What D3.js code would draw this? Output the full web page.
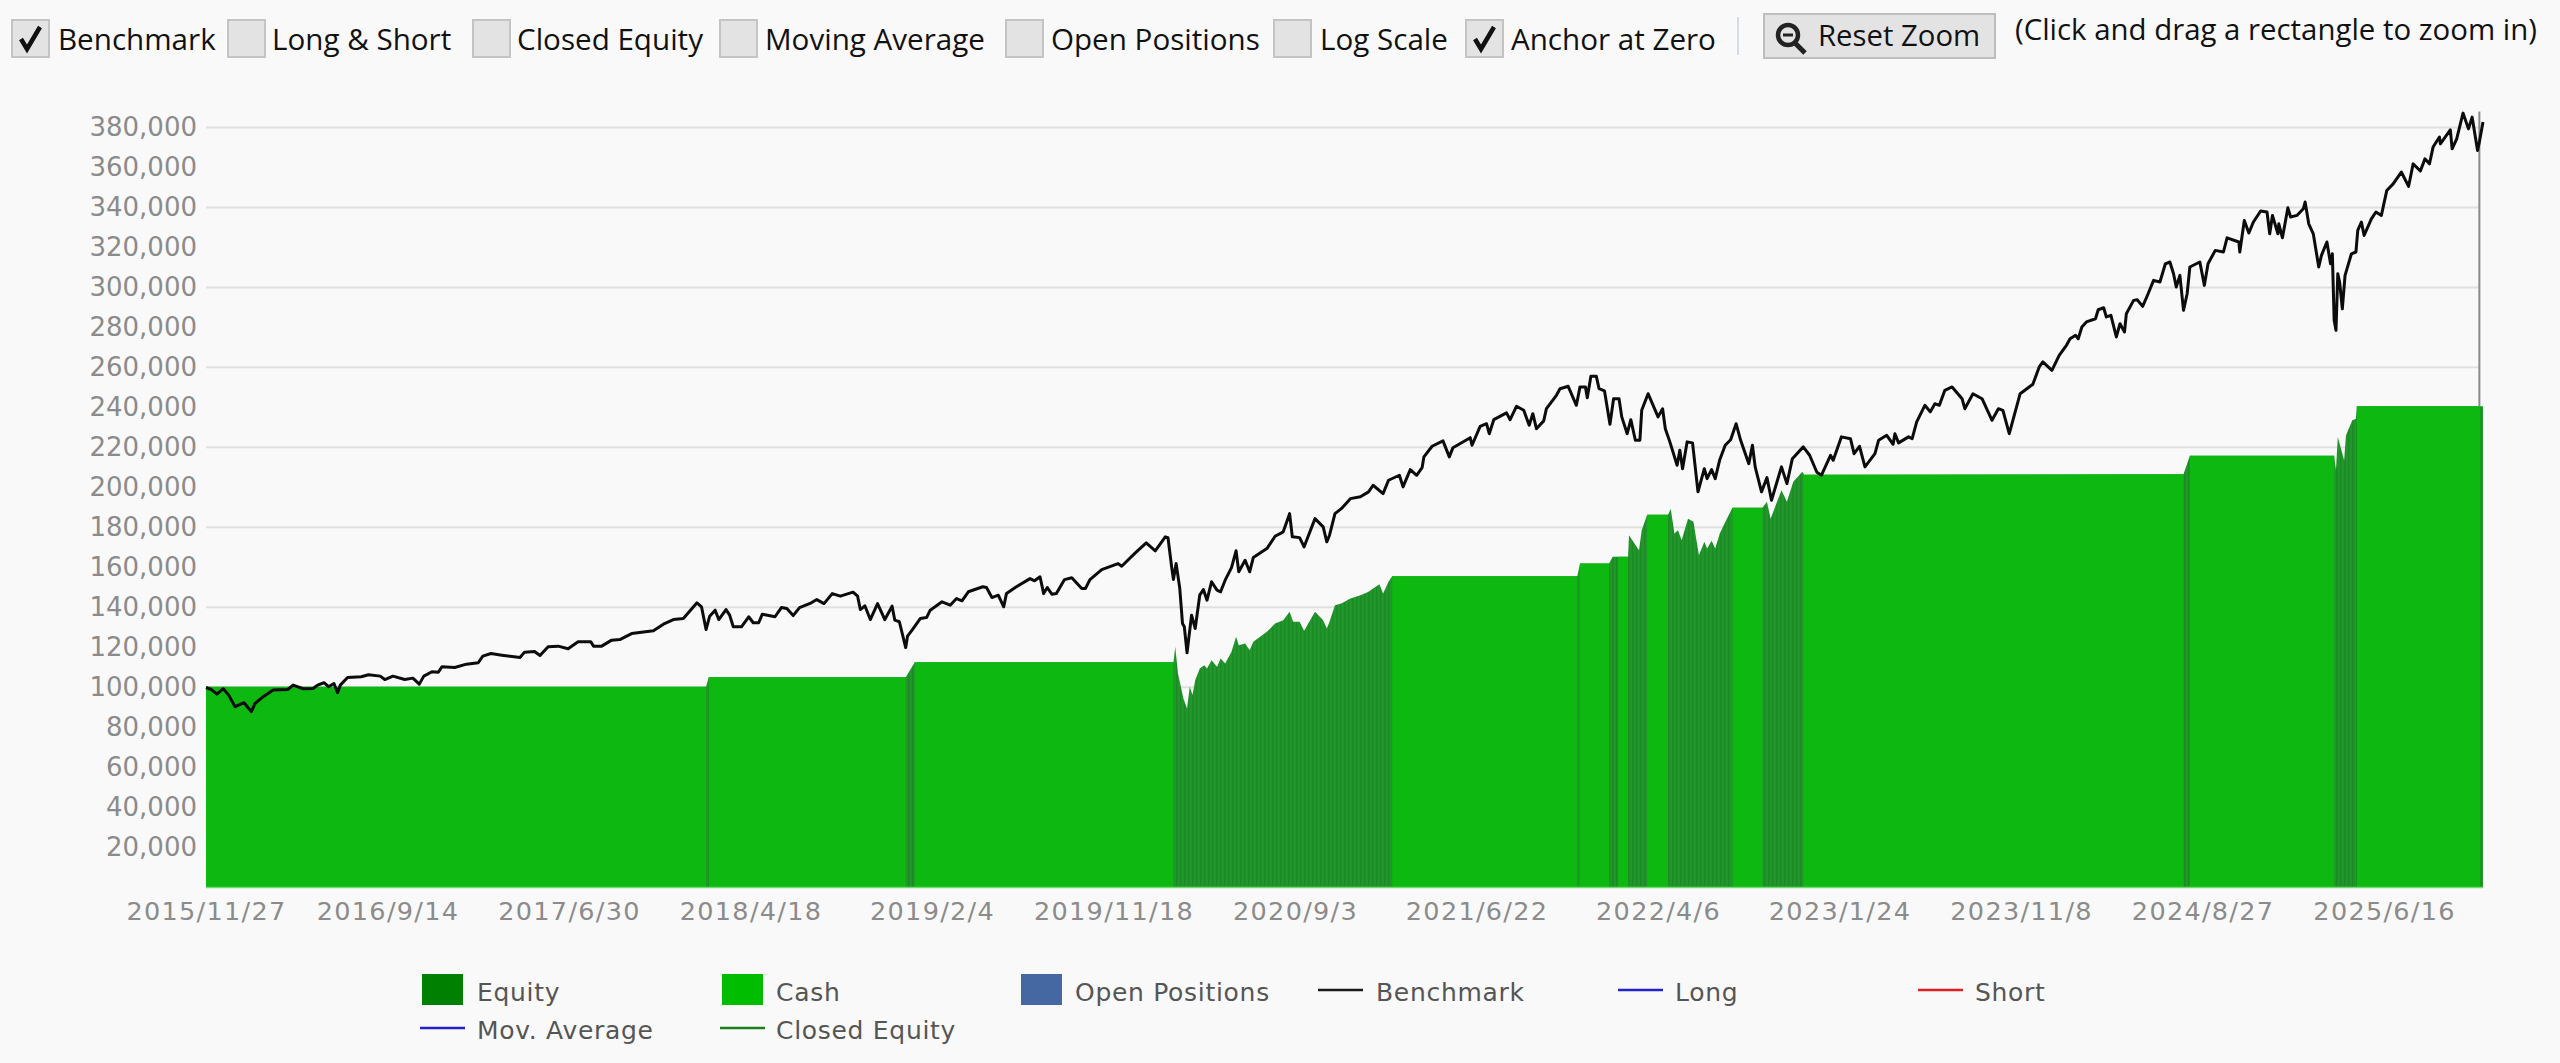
<!DOCTYPE html>
<html>
<head>
<meta charset="utf-8">
<script src="https://cdn.jsdelivr.net/npm/d3@7"></script>
<style>
  html, body { margin: 0; padding: 0; background: #f9f9f9; overflow: hidden; }
  text { font-family: "DejaVu Sans", sans-serif; }
  .bar-text { font-family: "Open Sans", sans-serif; font-size: 29.6px; fill: #111; }
</style>
</head>
<body>
<div id="chart"></div>
<script>
// x is the trading session number, one tick label every 200 sessions. values in thousands
const tickSessions = [0, 200, 400, 600, 800, 1000, 1200, 1400, 1600, 1800, 2000, 2200, 2400];
const tickLabels = ["2015/11/27", "2016/9/14", "2017/6/30", "2018/4/18", "2019/2/4", "2019/11/18", "2020/9/3",
  "2021/6/22", "2022/4/6", "2023/1/24", "2023/11/8", "2024/8/27", "2025/6/16"];
const yTicks = [20, 40, 60, 80, 100, 120, 140, 160, 180, 200, 220, 240, 260, 280, 300, 320, 340, 360, 380];
const gridValues = [20, 60, 100, 140, 180, 220, 260, 300, 340, 380];

const benchSession = [0, 6, 12, 19, 25, 32, 42, 50, 54, 63, 74, 90, 96, 107, 118, 123, 130, 135, 141, 145, 148, 156, 171, 179,
  192, 197, 206, 219, 228, 235, 240, 249, 256, 260, 274, 287, 300, 305, 314, 326, 346, 351, 362, 368, 377, 388, 399, 410, 424, 427, 436, 447,
  456, 469, 493, 504, 515, 526, 541, 546, 551, 555, 561, 565, 573, 577, 581, 590, 598, 603, 609, 613, 627, 634, 640, 647, 654, 667, 673, 681,
  690, 699, 713, 718, 721, 726, 732, 740, 748, 756, 759, 764, 771, 773, 778, 787, 794, 798, 811, 820, 827, 833, 840, 856, 860, 866, 873, 879,
  882, 893, 908, 913, 919, 923, 927, 932, 937, 946, 954, 965, 969, 974, 987, 1005, 1009, 1024, 1036, 1046, 1057, 1060, 1064, 1066, 1069, 1073,
  1076, 1078, 1081, 1086, 1090, 1095, 1099, 1103, 1108, 1114, 1118, 1123, 1130, 1135, 1138, 1145, 1150, 1154, 1169, 1178, 1187, 1194, 1197,
  1205, 1210, 1222, 1231, 1235, 1238, 1244, 1251, 1261, 1272, 1281, 1286, 1297, 1303, 1315, 1319, 1327, 1334, 1340, 1342, 1351, 1363, 1370,
  1374, 1393, 1395, 1404, 1411, 1414, 1419, 1433, 1437, 1444, 1452, 1458, 1462, 1466, 1474, 1477, 1488, 1492, 1501, 1510, 1514, 1520, 1522,
  1526, 1532, 1535, 1541, 1547, 1551, 1557, 1560, 1566, 1570, 1575, 1580, 1582, 1589, 1600, 1605, 1608, 1613, 1621, 1624, 1627, 1632, 1638,
  1644, 1651, 1654, 1659, 1663, 1668, 1674, 1680, 1686, 1691, 1700, 1704, 1707, 1714, 1720, 1725, 1736, 1742, 1748, 1760, 1767, 1775, 1780,
  1790, 1793, 1802, 1812, 1816, 1822, 1828, 1839, 1843, 1852, 1859, 1861, 1865, 1876, 1880, 1885, 1894, 1900, 1905, 1910, 1916, 1924, 1935,
  1938, 1947, 1957, 1968, 1975, 1980, 1987, 1999, 2013, 2020, 2024, 2034, 2042, 2050, 2054, 2060, 2063, 2067, 2072, 2082, 2085, 2091, 2094,
  2099, 2105, 2109, 2114, 2116, 2124, 2128, 2134, 2140, 2146, 2153, 2159, 2164, 2168, 2171, 2175, 2179, 2183, 2186, 2197, 2202, 2206, 2214,
  2223, 2227, 2240, 2241, 2246, 2251, 2256, 2264, 2271, 2274, 2277, 2283, 2284, 2288, 2294, 2297, 2304, 2311, 2313, 2317, 2322, 2328, 2331,
  2337, 2341, 2343, 2345, 2347, 2349, 2351, 2354, 2357, 2364, 2369, 2371, 2375, 2378, 2386, 2391, 2397, 2403, 2410, 2419, 2427, 2432, 2440,
  2445, 2450, 2454, 2461, 2462, 2473, 2475, 2480, 2487, 2493, 2497, 2503, 2505, 2509];
const benchValue = [99.8, 98.8, 96.5, 99.2, 96, 90.2, 92.2, 87.7, 91.8, 95.2, 98.5, 98.8, 101, 99.2, 99.3, 101, 102.2, 100.2, 101.8, 97.2, 101, 104.8, 105.2, 106.2,
  105.5, 103.8, 105.5, 103.8, 104.5, 101.5, 105.5, 107.7, 107.5, 110.2, 109.8, 111.5, 112.2, 115.5, 116.8, 116, 114.8, 117.5, 117.8, 115.8, 120.2, 120.5, 119.2, 122.7, 122.7, 120.5, 120.5, 123.5,
  123.8, 126.8, 128.2, 131.5, 133.8, 134.3, 142.2, 140.2, 128.8, 135.5, 138.5, 133.8, 138.8, 136, 130.2, 130.2, 135.2, 132.2, 132.2, 136.5, 135.2, 139.8, 139.3, 135.8, 139.8, 142.2, 143.8, 141.8,
  146.8, 145.5, 147.5, 145.5, 138.8, 140.7, 133.8, 141.8, 133.8, 140.5, 133.5, 132.7, 119.8, 125.5, 128.5, 134.3, 134.8, 138.5, 142.7, 141, 144.3, 143.2, 147.7, 150.2, 149.8, 144.8, 146, 140.2,
  146.8, 150.2, 154.3, 153.2, 155.2, 146.8, 149.8, 146.5, 146.8, 153.8, 154.7, 149.3, 149.3, 153.8, 158.8, 161.8, 160.5, 167.2, 172.2, 168.2, 175.2, 174.8, 160.2, 153.8, 161.8, 149.3,
  131.8, 130.2, 117.2, 136, 129.3, 146, 148.8, 143.5, 152.7, 148.5, 147.7, 153.5, 159.8, 168.2, 157.7, 163.5, 157.7, 164.8, 169.3, 175.5, 177.7, 186.8, 175.2,
  174.8, 170.2, 184.3, 180.2, 172.7, 176, 186.8, 189.3, 194.3, 195.2, 197.7, 201, 196.8, 203.5, 206, 200.2, 208.8, 206, 209.8, 215.2, 220.5, 223.2, 215.2,
  219.8, 224.8, 221, 230.5, 231.8, 226.8, 233.8, 237.2, 233.8, 240.5, 238.5, 231, 236.8, 229.3, 233.2, 239.3, 246, 249.3, 250.5, 241, 250.2, 250.2, 244.8,
  255.5, 255.5, 249.3, 248.2, 231.5, 244.3, 244.3, 235.2, 226.8, 233.8, 223.5, 223.5, 238.5, 246.8, 235.2, 239.3, 229.3, 222.7, 211, 218.5, 209.3, 222.7, 222.2,
  197.7, 209.3, 204.3, 208.8, 204.3, 213.8, 221, 223.8, 231.8, 223.5, 211.8, 221, 210.2, 197.7, 204.8, 193.5, 210.2, 201.8, 214.3, 220.2, 216, 207.5, 206,
  216, 213.5, 225.2, 224.3, 216.8, 220.5, 210.2, 216.8, 223.5, 226, 221.5, 226.8, 222.2, 225.2, 224.3, 232.7, 241, 237.7, 241.8, 241, 248.5, 250.2, 244.3,
  239.3, 246.8, 244.3, 233.5, 239.3, 238.5, 226.8, 246.8, 251.5, 260.2, 262.7, 258.5, 266, 271, 274.3, 276, 274.3, 280.2, 282.7, 284.3, 288.8, 289.8, 285.2,
  286, 275.2, 281.8, 277.7, 286.8, 293.5, 293.8, 290.5, 296.8, 303.5, 302.7, 311.8, 312.7, 306.8, 300.2, 306, 288.5, 296.8, 310.2, 312.7, 301, 311.8, 318.5,
  317.7, 324.8, 322.7, 317.7, 333.5, 327.2, 332.7, 338.2, 337.7, 326.8, 336, 326.8, 331.8, 324.8, 339.8, 335.2, 336, 339.3, 342.7, 331.8, 326.8, 310.2, 316,
  322.7, 311.8, 316.8, 283.5, 278.5, 306.8, 302.7, 289.3, 306, 316.8, 317.7, 328.5, 332.7, 326, 334.3, 337.7, 336, 348.5, 351.8, 357.7, 350.5, 361.8, 358.2,
  364.3, 361.8, 370.2, 375.2, 371.8, 378.8, 369.3, 374.3, 387.2, 379.3, 385.2, 368.5, 372.7, 382.7];

const equitySession = [0, 551, 554, 771, 775, 781, 1066, 1068, 1071, 1077, 1081, 1084, 1087, 1090, 1095, 1100, 1103, 1108, 1114, 1118, 1123, 1130, 1135, 1138,
  1145, 1150, 1154, 1169, 1178, 1187, 1194, 1198, 1205, 1210, 1222, 1231, 1235, 1238, 1244, 1251, 1261, 1272, 1281, 1286, 1293, 1297, 1303, 1307,
  1511, 1514, 1546, 1550, 1567, 1568, 1579, 1582, 1588, 1611, 1614, 1618, 1622, 1626, 1633, 1639, 1645, 1651, 1654, 1659, 1663, 1668, 1675, 1682,
  1715, 1720, 1724, 1736, 1742, 1749, 1759, 1761, 2179, 2186, 2345, 2347, 2349, 2356, 2358, 2365, 2369, 2370, 2509];
const equityValue = [100.2, 100.2, 105, 105, 108, 112.5, 112.5, 120.2, 106.8, 94.3, 89.3, 100.2, 96, 103.5, 109.3, 111, 109.3, 113.5, 110.2, 114.3, 111.8, 117.7, 125.2, 121,
  121.8, 118.5, 122.7, 127.7, 131.8, 133.5, 137.7, 132.7, 132.7, 128.2, 137.7, 133.5, 129.3, 132.7, 141, 141.8, 144.3, 146, 147.7, 149.3, 151.5, 146.8, 152.7, 155.5,
  155.5, 161.8, 161.8, 165.2, 165.2, 176, 168.5, 178.5, 186.3, 186.3, 189.3, 176.8, 178.5, 173.5, 184.3, 182.7, 166, 172.7, 169.3, 173.2, 169.3, 176.8, 183.5, 189.8,
  189.8, 192.7, 184.3, 198.5, 192.7, 202.7, 207.7, 206.3, 206.5, 215.7, 215.7, 208.5, 225.2, 213.5, 226, 233.5, 234.3, 240.5, 240.5];

// cash falls to zero while a position is open, the dark equity shows through there
const cashSession = [0, 551, 551, 554, 554, 771, 771, 781, 781, 1066, 1066, 1307, 1307, 1511, 1511, 1514, 1514, 1546, 1546, 1556, 1556, 1567, 1567, 1588, 1588, 1611, 1611,
  1682, 1682, 1715, 1715, 1760, 1760, 2179, 2179, 2186, 2186, 2345, 2345, 2370, 2370, 2506, 2506];
const cashValue = [100.2, 100.2, 0, 0, 105, 105, 0, 0, 112.5, 112.5, 0, 0, 155.5, 155.5, 0, 0, 161.8, 161.8, 0, 0, 165.2, 165.2, 0, 0, 186.3, 186.3, 0,
  0, 189.8, 189.8, 0, 0, 206.3, 206.5, 0, 0, 215.7, 215.7, 0, 0, 240.5, 240.5, 0];

const lastBarSession = 2505;
const lastBarValues = [240.5, 388];

const toggles = ["Benchmark", "Long & Short", "Closed Equity", "Moving Average", "Open Positions", "Log Scale", "Anchor at Zero"];
const toggleChecked = [true, false, false, false, false, false, true];
const toggleBoxX = [12, 228, 473, 720, 1006, 1274, 1466];
const toggleTextX = [58, 272, 517, 765, 1051, 1320, 1511];

const margin = {top: 87.5, left: 206, right: 2483, bottom: 887};

const svg = d3.select("#chart").append("svg")
    .attr("width", 2560)
    .attr("height", 1063)
    .style("display", "block");

const x = d3.scaleLinear().domain([0, 2509]).range([margin.left, margin.right]);
const y = d3.scaleLinear().domain([0, 400]).range([margin.bottom, margin.top]);

const defs = svg.append("defs");
const stripes = defs.append("pattern")
    .attr("id", "stripes")
    .attr("patternUnits", "userSpaceOnUse")
    .attr("width", 4)
    .attr("height", 4);
stripes.append("rect").attr("width", 4).attr("height", 4).attr("fill", "#21962a");
stripes.append("rect").attr("width", 1.4).attr("height", 4).attr("fill", "#1c8a24");

// gridlines
svg.append("g").selectAll("line")
  .data(gridValues)
  .join("line")
    .attr("x1", margin.left)
    .attr("x2", x(2505))
    .attr("y1", d => y(d))
    .attr("y2", d => y(d))
    .attr("stroke", "#e0e0e0")
    .attr("stroke-width", 2);

// equity and cash areas
const equityArea = d3.area()
    .x((d, i) => x(equitySession[i]))
    .y0(y(0))
    .y1(d => y(d));
svg.append("path")
    .attr("d", equityArea(equityValue))
    .attr("fill", "url(#stripes)");

const cashArea = d3.area()
    .x((d, i) => x(cashSession[i]))
    .y0(y(0))
    .y1(d => y(d));
svg.append("path")
    .attr("d", cashArea(cashValue))
    .attr("fill", "#0db810");

svg.append("line")
    .attr("x1", margin.left)
    .attr("x2", x(2509))
    .attr("y1", y(0) + 0.5)
    .attr("y2", y(0) + 0.5)
    .attr("stroke", "#6fdc72")
    .attr("stroke-width", 1.5);

// gray bar at the last session
svg.append("line")
    .attr("x1", x(lastBarSession))
    .attr("x2", x(lastBarSession))
    .attr("y1", y(lastBarValues[0]))
    .attr("y2", y(lastBarValues[1]))
    .attr("stroke", "#8a8a8a")
    .attr("stroke-width", 2);

// benchmark
const benchLine = d3.line()
    .x((d, i) => x(benchSession[i]))
    .y(d => y(d));
svg.append("path")
    .attr("d", benchLine(benchValue))
    .attr("fill", "none")
    .attr("stroke", "#0c0c0c")
    .attr("stroke-width", 3)
    .attr("stroke-linejoin", "round");

// axes
const yAxis = svg.append("g")
    .attr("transform", `translate(${margin.left},0)`)
    .call(d3.axisLeft(y).tickValues(yTicks).tickSize(0).tickPadding(9).tickFormat(d => d3.format(",")(d * 1000)));
yAxis.select(".domain").remove();
yAxis.selectAll("text").attr("fill", "#8b8b8b").attr("font-size", 26).attr("font-family", "DejaVu Sans");

const xAxis = svg.append("g")
    .attr("transform", `translate(0,${margin.bottom})`)
    .call(d3.axisBottom(x).tickValues(tickSessions).tickSize(0).tickPadding(15).tickFormat((d, i) => tickLabels[i]));
xAxis.select(".domain").remove();
xAxis.selectAll("text").attr("fill", "#8b8b8b").attr("font-size", 25.5).attr("font-family", "DejaVu Sans")
    .attr("letter-spacing", "1.3px");

// legend
const legendSwatches = [
  {label: "Equity", color: "#008000", x: 422, tx: 477},
  {label: "Cash", color: "#00bd00", x: 722, tx: 776},
  {label: "Open Positions", color: "#4668a2", x: 1021, tx: 1075}
];
const legendLines = [
  {label: "Benchmark", color: "#1a1a1a", x: 1318, tx: 1376, yy: 990},
  {label: "Long", color: "#2222cc", x: 1618, tx: 1675, yy: 990},
  {label: "Short", color: "#e02020", x: 1918, tx: 1975, yy: 990},
  {label: "Mov. Average", color: "#2222cc", x: 420, tx: 477, yy: 1028},
  {label: "Closed Equity", color: "#1e7d1e", x: 720, tx: 776, yy: 1028}
];
const legend = svg.append("g");
legend.selectAll("rect")
  .data(legendSwatches)
  .join("rect")
    .attr("x", d => d.x)
    .attr("y", 974)
    .attr("width", 41)
    .attr("height", 31)
    .attr("fill", d => d.color);
legend.selectAll("line")
  .data(legendLines)
  .join("line")
    .attr("x1", d => d.x)
    .attr("x2", d => d.x + 45)
    .attr("y1", d => d.yy)
    .attr("y2", d => d.yy)
    .attr("stroke", d => d.color)
    .attr("stroke-width", 2.5);
legend.selectAll("text")
  .data([
    ...legendSwatches.map(d => ({...d, yy: 990})),
    ...legendLines
  ])
  .join("text")
    .attr("x", d => d.tx)
    .attr("y", d => d.yy + 2)
    .attr("dy", "0.35em")
    .attr("font-size", 25)
    .attr("letter-spacing", "0.7px")
    .attr("fill", "#555")
    .text(d => d.label);

// toolbar
const bar = svg.append("g");
const boxes = bar.selectAll(".box")
  .data(toggles)
  .join("g")
    .attr("class", "box")
    .attr("transform", (d, i) => `translate(${toggleBoxX[i]},20)`);
boxes.append("rect")
    .attr("width", 37)
    .attr("height", 37)
    .attr("fill", "#e3e3e3")
    .attr("stroke", "#c4c4c4")
    .attr("stroke-width", 2);
boxes.filter((d, i) => toggleChecked[i]).append("path")
    .attr("d", "M9 19 L15 29 L28 7")
    .attr("fill", "none")
    .attr("stroke", "#111")
    .attr("stroke-width", 4.5);
bar.selectAll(".bar-text.toggle")
  .data(toggles)
  .join("text")
    .attr("class", "bar-text toggle")
    .attr("x", (d, i) => toggleTextX[i])
    .attr("y", 50)
    .text(d => d);

bar.append("line")
    .attr("x1", 1738).attr("x2", 1738).attr("y1", 17).attr("y2", 55)
    .attr("stroke", "#d5dde6").attr("stroke-width", 2);
bar.append("rect")
    .attr("x", 1764).attr("y", 14).attr("width", 231).attr("height", 44)
    .attr("fill", "#e3e3e3").attr("stroke", "#bdbdbd").attr("stroke-width", 2);
bar.append("circle")
    .attr("cx", 1788).attr("cy", 35).attr("r", 10)
    .attr("fill", "none").attr("stroke", "#222").attr("stroke-width", 4.5);
bar.append("line")
    .attr("x1", 1795).attr("y1", 43).attr("x2", 1805).attr("y2", 53)
    .attr("stroke", "#222").attr("stroke-width", 5);
bar.append("line")
    .attr("x1", 1783).attr("y1", 35).attr("x2", 1793).attr("y2", 35)
    .attr("stroke", "#222").attr("stroke-width", 3);
bar.append("text")
    .attr("class", "bar-text")
    .attr("x", 1818).attr("y", 46)
    .style("font-size", "29.3px")
    .text("Reset Zoom");
bar.append("text")
    .attr("class", "bar-text")
    .attr("x", 2015).attr("y", 40)
    .style("font-size", "29.4px")
    .text("(Click and drag a rectangle to zoom in)");
</script>
</body>
</html>
